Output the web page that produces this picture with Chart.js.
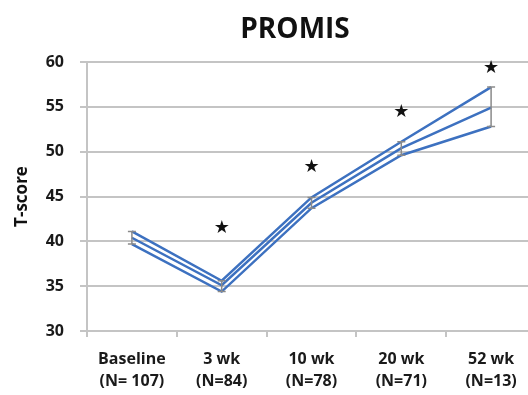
<!DOCTYPE html>
<html>
<head>
<meta charset="utf-8">
<script src="https://cdn.jsdelivr.net/npm/chart.js@4"></script>
<style>
  html, body { margin: 0; padding: 0; background: #fff; overflow: hidden; }
  #wrap { width: 536px; height: 395px; }
</style>
</head>
<body>
<div id="wrap"><canvas id="promisChart"></canvas></div>
<script>
const categories = [
    ["Baseline", "(N= 107)"],
    ["3 wk", "(N=84)"],
    ["10 wk", "(N=78)"],
    ["20 wk", "(N=71)"],
    ["52 wk", "(N=13)"]
];
const meanValues  = [40.4, 35.1, 44.3, 50.4, 54.9];
const upperValues = [41.1, 35.6, 44.9, 51.1, 57.2];
const lowerValues = [39.7, 34.4, 43.7, 49.6, 52.8];
const starValues  = [null, 41.5, 48.3, 54.4, 59.3];
const yTicks = [30, 35, 40, 45, 50, 55, 60];

const lineColor = "#3d71c0";
const labelFont = "'Open Sans', Lato, sans-serif";

/* ---------- title drawn over the plot ---------- */
const titlePlugin = {
    id: "titleText",
    afterDraw(chart) {
        const ctx = chart.ctx;
        ctx.save();
        ctx.font = "bold 28px " + labelFont;
        ctx.fillStyle = "#111";
        ctx.textAlign = "center";
        ctx.textBaseline = "middle";
        ctx.fillText("PROMIS", 295, 30);
        ctx.restore();
    }
};

/* ---------- error bars + stars ---------- */
const markPlugin = {
    id: "marks",
    afterDatasetsDraw(chart) {
        const ctx = chart.ctx;
        const x = chart.scales.x;
        const y = chart.scales.y;
        ctx.save();
        ctx.strokeStyle = "#8a8a8a";
        ctx.lineWidth = 1.5;
        for (let i = 0; i < categories.length; i++) {
            const px = x.getPixelForValue(i);
            const top = y.getPixelForValue(upperValues[i]);
            const bot = y.getPixelForValue(lowerValues[i]);
            ctx.beginPath();
            ctx.moveTo(px, top); ctx.lineTo(px, bot);
            ctx.moveTo(px - 4, top); ctx.lineTo(px + 4, top);
            ctx.moveTo(px - 4, bot); ctx.lineTo(px + 4, bot);
            ctx.stroke();
        }
        ctx.fillStyle = "#111";
        ctx.font = "18px 'DejaVu Sans'";
        ctx.textAlign = "center";
        ctx.textBaseline = "middle";
        starValues.forEach((v, i) => {
            if (v === null) return;
            ctx.fillText("\u2605", x.getPixelForValue(i), y.getPixelForValue(v));
        });
        ctx.restore();
    }
};

function lineSet(values) {
    return {
        data: values,
        borderColor: lineColor,
        borderWidth: 2.5,
        pointRadius: 0,
        tension: 0,
        fill: false
    };
}

new Chart(document.getElementById("promisChart"), {
    type: "line",
    data: {
        labels: categories,
        datasets: [lineSet(upperValues), lineSet(meanValues), lineSet(lowerValues)]
    },
    options: {
        responsive: true,
        maintainAspectRatio: false,
        animation: false,
        layout: { padding: { top: 62, right: 0, left: 0, bottom: 0 } },
        plugins: {
            legend: { display: false },
            tooltip: { enabled: false },
            title: { display: false }
        },
        scales: {
            x: {
                offset: true,
                grid: {
                    offset: true,
                    drawOnChartArea: false,
                    drawTicks: true,
                    tickLength: 6,
                    color: "#c4c4c4",
                    lineWidth: 2
                },
                border: { color: "#c4c4c4", width: 2 },
                ticks: {
                    color: "#1a1a1a",
                    font: { family: labelFont, size: 16, weight: "bold", lineHeight: 1.35 },
                    maxRotation: 0,
                    padding: 12
                },
                afterFit(scale) { scale.height = 64; }
            },
            y: {
                min: 30,
                max: 60,
                afterBuildTicks(scale) {
                    scale.ticks = yTicks.map(v => ({ value: v }));
                },
                grid: {
                    color: "#c4c4c4",
                    lineWidth: 2,
                    drawTicks: true,
                    tickLength: 7
                },
                border: { color: "#c4c4c4", width: 2 },
                ticks: {
                    color: "#1a1a1a",
                    font: { family: labelFont, size: 16, weight: "bold" },
                    padding: 16
                },
                title: {
                    display: true,
                    text: "T-score",
                    color: "#111",
                    font: { family: labelFont, size: 17, weight: "bold" },
                    padding: { top: 12, bottom: 0 }
                },
                afterFit(scale) { scale.width = 87; }
            }
        }
    },
    plugins: [titlePlugin, markPlugin]
});
</script>
</body>
</html>
